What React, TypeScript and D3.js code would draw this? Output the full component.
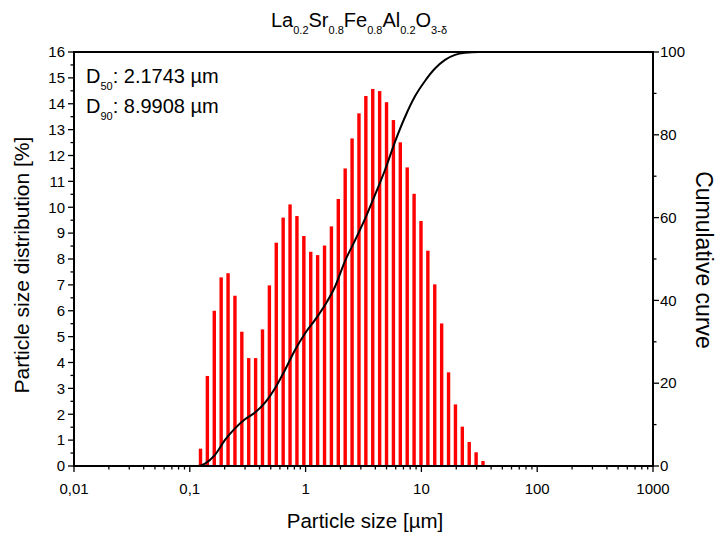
import * as d3 from "d3";
import React from "react";

// Particle size distribution (bars) and cumulative curve
const binSizes = [
  0.1237, 0.1418, 0.1627, 0.1866, 0.214, 0.2454, 0.2814, 0.3227, 0.3701, 0.4244,
  0.4867, 0.5581, 0.64, 0.734, 0.8417, 0.9658, 1.1075, 1.27, 1.457, 1.671,
  1.916, 2.197, 2.52, 2.89, 3.314, 3.801, 4.359, 4.999, 5.733, 6.575,
  7.541, 8.648, 9.917, 11.37, 13.04, 14.96, 17.16, 19.68, 22.56, 25.88,
  29.68, 34.04,
];
const frequency = [
  0.67, 3.48, 6.0, 7.29, 7.45, 6.58, 5.19, 4.17, 4.17, 5.28,
  6.98, 8.63, 9.6, 10.11, 9.66, 8.89, 8.28, 8.15, 8.52, 9.26,
  10.32, 11.5, 12.66, 13.63, 14.3, 14.57, 14.49, 14.06, 13.37, 12.51,
  11.54, 10.52, 9.47, 8.32, 7.02, 5.51, 3.62, 2.38, 1.52, 0.93,
  0.53, 0.19,
];

const curveSizes = [
  0.01, 0.1177, 0.1353, 0.1651, 0.2014, 0.2456, 0.2997, 0.3656, 0.446, 0.5441,
  0.664, 0.8101, 0.988, 1.206, 1.471, 1.794, 2.189, 2.671, 3.258, 3.975,
  4.85, 5.916, 7.218, 8.805, 10.74, 13.1, 15.99, 19.51, 23.8, 31.5, 1000,
];
const cumulative = [
  0, 0, 0.6, 2.7, 6.3, 9.1, 11.3, 12.9, 15.3, 18.8,
  23.2, 28.0, 32.0, 35.3, 38.9, 43.3, 49.5, 54.5, 59.7, 65.5,
  71.5, 78.3, 84.3, 89.3, 93.0, 96.0, 98.1, 99.3, 99.8, 100, 100,
];

const xTickValues = [0.01, 0.1, 1, 10, 100, 1000];
const xTickLabels = ["0,01", "0,1", "1", "10", "100", "1000"];
const leftTicks = d3.range(0, 17, 1);
const rightTicks = [0, 20, 40, 60, 80, 100];

const FONT = "'Liberation Sans', Arial, sans-serif";

const App = () => {
  const width = 719;
  const height = 534;
  const left = 74;
  const right = 653;
  const top = 52;
  const bottom = 466;

  const x = d3.scaleLog().domain([0.01, 1000]).range([left, right]);
  const y = d3.scaleLinear().domain([0, 16]).range([bottom, top]);
  const y2 = d3.scaleLinear().domain([0, 100]).range([bottom, top]);

  const line = d3
    .line<number>()
    .x((_d, i) => x(curveSizes[i]))
    .y((d) => y2(d))
    .curve(d3.curveMonotoneX);

  // minor ticks on the log axis (2..9 in each decade)
  const xMinor: number[] = [];
  for (let e = -2; e < 3; e++) {
    for (let m = 2; m < 10; m++) xMinor.push(m * Math.pow(10, e));
  }
  const leftMinor = d3.range(0.5, 16, 1);
  const rightMinor = [10, 30, 50, 70, 90];

  const barW = 3.4;

  return (
    <svg
      width={width}
      height={height}
      style={{ position: "absolute", left: 0, top: 0, background: "#fff" }}
      fontFamily={FONT}
    >
      {/* title */}
      <text x={359} y={27} textAnchor="middle" fontSize={20}>
        La<tspan fontSize={11} dy={7}>0.2</tspan>
        <tspan dy={-7}>Sr</tspan><tspan fontSize={11} dy={7}>0.8</tspan>
        <tspan dy={-7}>Fe</tspan><tspan fontSize={11} dy={7}>0.8</tspan>
        <tspan dy={-7}>Al</tspan><tspan fontSize={11} dy={7}>0.2</tspan>
        <tspan dy={-7}>O</tspan><tspan fontSize={11} dy={7}>3-δ</tspan>
      </text>

      {/* bars */}
      <g fill="#ff0000">
        {frequency.map((v, i) => (
          <rect
            key={i}
            x={x(binSizes[i]) - barW / 2}
            y={y(v)}
            width={barW}
            height={y(0) - y(v)}
          />
        ))}
      </g>

      {/* cumulative curve */}
      <path d={line(cumulative) || ""} fill="none" stroke="#000" strokeWidth={2} />

      {/* frame */}
      <g stroke="#000" strokeWidth={2} fill="none">
        <line x1={left - 1} x2={right + 1} y1={top} y2={top} />
        <line x1={left - 1} x2={right + 1} y1={bottom} y2={bottom} />
        <line x1={left} x2={left} y1={top} y2={bottom} />
        <line x1={right} x2={right} y1={top} y2={bottom} />
      </g>

      {/* x axis ticks */}
      <g stroke="#000" strokeWidth={1.3}>
        {xTickValues.map((t) => (
          <line key={t} x1={x(t)} x2={x(t)} y1={bottom} y2={bottom + 6} />
        ))}
        {xMinor.map((t) => (
          <line key={t} x1={x(t)} x2={x(t)} y1={bottom} y2={bottom + 3.5} />
        ))}
      </g>
      <g fontSize={15} textAnchor="middle">
        {xTickValues.map((t, i) => (
          <text key={t} x={x(t)} y={494}>
            {xTickLabels[i]}
          </text>
        ))}
      </g>

      {/* left axis ticks */}
      <g stroke="#000" strokeWidth={1.3}>
        {leftTicks.map((t) => (
          <line key={t} x1={left - 6} x2={left} y1={y(t)} y2={y(t)} />
        ))}
        {leftMinor.map((t) => (
          <line key={t} x1={left - 3.5} x2={left} y1={y(t)} y2={y(t)} />
        ))}
      </g>
      <g fontSize={15} textAnchor="end">
        {leftTicks.map((t) => (
          <text key={t} x={left - 9} y={y(t)} dy="0.35em">
            {t}
          </text>
        ))}
      </g>

      {/* right axis ticks */}
      <g stroke="#000" strokeWidth={1.3}>
        {rightTicks.map((t) => (
          <line key={t} x1={right} x2={right + 6} y1={y2(t)} y2={y2(t)} />
        ))}
        {rightMinor.map((t) => (
          <line key={t} x1={right} x2={right + 3.5} y1={y2(t)} y2={y2(t)} />
        ))}
      </g>
      <g fontSize={15} textAnchor="start">
        {rightTicks.map((t) => (
          <text key={t} x={right + 7} y={y2(t)} dy="0.35em">
            {t}
          </text>
        ))}
      </g>

      {/* axis titles */}
      <text x={365} y={528} textAnchor="middle" fontSize={20.5}>
        Particle size [µm]
      </text>
      <text
        transform={`translate(29, ${(top + bottom) / 2 + 6}) rotate(-90)`}
        textAnchor="middle"
        fontSize={21}
      >
        Particle size distribution [%]
      </text>
      <text
        transform={`translate(696, ${(top + bottom) / 2 + 1}) rotate(90)`}
        textAnchor="middle"
        fontSize={23}
      >
        Cumulative curve
      </text>

      {/* D50 / D90 */}
      <g fontSize={20}>
        <text x={86} y={83}>
          D<tspan fontSize={11} dy={7}>50</tspan>
          <tspan dy={-7}>: 2.1743 µm</tspan>
        </text>
        <text x={86} y={113}>
          D<tspan fontSize={11} dy={7}>90</tspan>
          <tspan dy={-7}>: 8.9908 µm</tspan>
        </text>
      </g>
    </svg>
  );
};

export default App;
